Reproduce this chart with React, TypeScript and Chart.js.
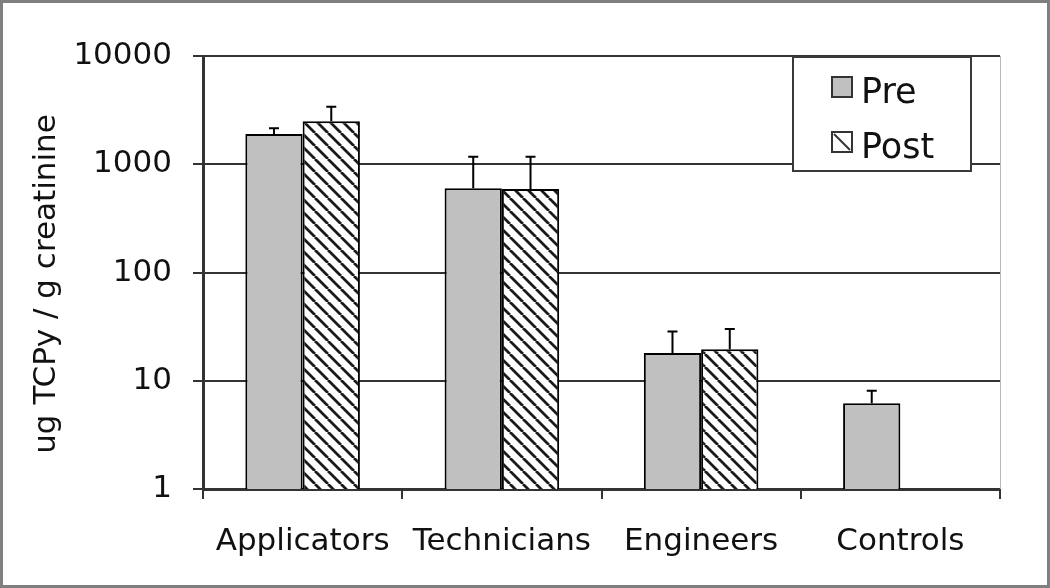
import React, { useEffect, useRef } from "react";
import { Chart, registerables } from "chart.js";
Chart.register(...registerables);

const categories = ["Applicators", "Technicians", "Engineers", "Controls"];
const seriesLabels = ["Pre", "Post"];
const preValues = [1900, 600, 18, 6.2];
const postValues: (number | null)[] = [2500, 590, 19.5, null];
const preErrTop = [2150, 1170, 28.5, 8.1];
const postErrTop: (number | null)[] = [3400, 1170, 30, null];
const yTicks = [1, 10, 100, 1000, 10000];
const yTitle = "ug TCPy / g creatinine";

const FONT = "'DejaVu Sans', Verdana, sans-serif";
const GRID = "#333333";
const PRE_FILL = "#c0c0c0";

function makeHatch(): CanvasPattern | string {
  const s = 13;
  const c = document.createElement("canvas");
  c.width = s;
  c.height = s;
  const g = c.getContext("2d");
  if (!g) return "#fff";
  g.fillStyle = "#ffffff";
  g.fillRect(0, 0, s, s);
  g.strokeStyle = "#1a1a1a";
  g.lineWidth = 2.8;
  g.beginPath();
  for (const k of [-s, 0, s]) {
    g.moveTo(k, 0);
    g.lineTo(k + s, s);
  }
  g.stroke();
  const p = g.createPattern(c, "repeat");
  return p || "#fff";
}

export default function App() {
  const ref = useRef<HTMLCanvasElement>(null);
  useEffect(() => {
    if (!ref.current) return;
    const hatch = makeHatch();
    const errTops = [preErrTop, postErrTop];
    const extras = {
      id: "extras",
      afterDatasetsDraw(chart: any) {
        const ctx = chart.ctx as CanvasRenderingContext2D;
        const ys = chart.scales.y;
        chart.data.datasets.forEach((ds: any, i: number) => {
          const meta = chart.getDatasetMeta(i);
          meta.data.forEach((el: any, j: number) => {
            const e = errTops[i][j];
            if (e == null || ds.data[j] == null) return;
            const ey = ys.getPixelForValue(e);
            ctx.save();
            ctx.strokeStyle = "#000";
            ctx.lineWidth = 2;
            ctx.beginPath();
            ctx.moveTo(el.x, el.y);
            ctx.lineTo(el.x, ey);
            ctx.moveTo(el.x - 5, ey);
            ctx.lineTo(el.x + 5, ey);
            ctx.stroke();
            ctx.restore();
          });
        });
        const a = chart.chartArea;
        ctx.save();
        ctx.strokeStyle = "#b8b8b8";
        ctx.lineWidth = 1;
        ctx.beginPath();
        ctx.moveTo(a.right + 0.5, a.top);
        ctx.lineTo(a.right + 0.5, a.bottom);
        ctx.stroke();
        // y-axis title
        ctx.save();
        ctx.translate(44, 281);
        ctx.rotate(-Math.PI / 2);
        ctx.fillStyle = "#111";
        ctx.font = `31px ${FONT}`;
        ctx.textAlign = "center";
        ctx.textBaseline = "middle";
        ctx.fillText(yTitle, 0, 0);
        ctx.restore();
        // legend
        const bx = 790, by = 54, bw = 178, bh = 114;
        ctx.fillStyle = "#fff";
        ctx.fillRect(bx, by, bw, bh);
        ctx.strokeStyle = "#3a3a3a";
        ctx.lineWidth = 2;
        ctx.strokeRect(bx, by, bw, bh);
        // Pre marker
        ctx.fillStyle = PRE_FILL;
        ctx.fillRect(829, 74, 20, 20);
        ctx.strokeStyle = "#333";
        ctx.lineWidth = 2;
        ctx.strokeRect(829, 74, 20, 20);
        // Post marker
        ctx.fillStyle = "#fff";
        ctx.fillRect(829, 129, 20, 20);
        ctx.strokeRect(829, 129, 20, 20);
        ctx.beginPath();
        ctx.moveTo(831, 131);
        ctx.lineTo(847, 147);
        ctx.stroke();
        ctx.fillStyle = "#111";
        ctx.font = `35px ${FONT}`;
        ctx.textBaseline = "alphabetic";
        ctx.textAlign = "left";
        ctx.fillText(seriesLabels[0], 858, 100);
        ctx.fillText(seriesLabels[1], 858, 155);
        ctx.restore();
      },
    };
    const chart = new Chart(ref.current, {
      type: "bar",
      data: {
        labels: categories,
        datasets: [
          {
            label: seriesLabels[0],
            data: preValues,
            backgroundColor: PRE_FILL,
            borderColor: "#000",
            borderWidth: 2,
            barPercentage: 1,
            categoryPercentage: 0.575,
          },
          {
            label: seriesLabels[1],
            data: postValues,
            backgroundColor: hatch as any,
            borderColor: "#000",
            borderWidth: 2,
            barPercentage: 1,
            categoryPercentage: 0.575,
          },
        ],
      },
      options: {
        animation: false,
        responsive: false,
        maintainAspectRatio: false,
        layout: { padding: { left: 0, top: 53, right: 47, bottom: 0 } },
        plugins: { legend: { display: false }, tooltip: { enabled: false } },
        scales: {
          x: {
            type: "category",
            offset: true,
            grid: {
              offset: true,
              drawOnChartArea: false,
              tickLength: 10,
              color: GRID,
              lineWidth: 2,
            },
            border: { color: GRID, width: 3 },
            ticks: {
              color: "#111",
              font: { family: FONT, size: 31 },
              padding: 24,
              maxRotation: 0,
              autoSkip: false,
            },
            afterFit: (s: any) => {
              s.height = 96;
            },
          },
          y: {
            type: "logarithmic",
            min: 1,
            max: 10000,
            afterBuildTicks: (s: any) => {
              s.ticks = yTicks.map((v) => ({ value: v }));
            },
            ticks: {
              callback: (v: any) => String(v),
              color: "#111",
              font: { family: FONT, size: 31 },
              padding: 21,
            },
            grid: { color: GRID, lineWidth: 2, tickLength: 10 },
            border: { color: GRID, width: 3 },
            title: { display: false },
            afterFit: (s: any) => {
              s.width = 200;
            },
          },
        },
      },
      plugins: [extras],
    } as any);
    return () => chart.destroy();
  }, []);
  return (
    <div
      style={{
        position: "fixed",
        left: 0,
        top: 0,
        width: 1050,
        height: 588,
        boxSizing: "border-box",
        border: "3px solid #7f7f7f",
        background: "#fff",
      }}
    >
      <canvas ref={ref} width={1044} height={582} style={{ display: "block", width: 1044, height: 582 }} />
    </div>
  );
}
